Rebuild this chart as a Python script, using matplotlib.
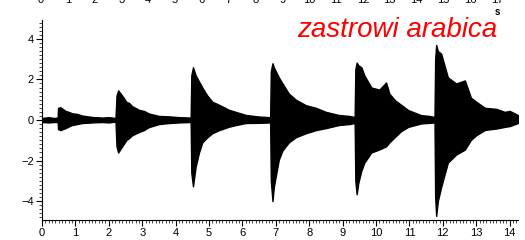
import matplotlib
matplotlib.use("Agg")
import matplotlib.pyplot as plt
from matplotlib.ticker import MultipleLocator

plt.rcParams['font.family'] = ['Liberation Sans', 'DejaVu Sans']

# envelope of the waveform (time in s, upper / lower amplitude)
env_t = [0.0, 0.2, 0.35, 0.47, 0.48, 0.55, 0.7, 0.8, 0.9, 1.05, 1.2, 1.5, 1.8, 2.0, 2.2,
         2.23, 2.28, 2.4, 2.53, 2.6, 2.7, 2.92, 3.05, 3.2, 3.5, 3.8, 4.1, 4.45,
         4.47, 4.52, 4.6, 4.7, 4.8, 4.95, 5.1, 5.3, 5.6, 5.8, 6.1, 6.5, 6.83,
         6.85, 6.9, 6.94, 7.09, 7.2, 7.39, 7.6, 7.9, 8.2, 8.5, 8.88, 9.2, 9.36,
         9.38, 9.42, 9.47, 9.56, 9.65, 9.86, 10.1, 10.3, 10.4, 10.57, 10.75, 10.96, 11.35, 11.6, 11.75,
         11.77, 11.8, 11.85, 11.95, 12.15, 12.4, 12.66, 12.84, 13.0, 13.26, 13.6, 13.85, 14.0, 14.25]
env_hi = [0.1, 0.14, 0.1, 0.12, 0.6, 0.63, 0.45, 0.4, 0.33, 0.3, 0.22, 0.15, 0.12, 0.14, 0.1,
          1.2, 1.46, 1.2, 0.88, 0.85, 0.68, 0.49, 0.45, 0.32, 0.2, 0.18, 0.14, 0.12,
          2.2, 2.6, 2.2, 1.9, 1.6, 1.2, 0.9, 0.75, 0.5, 0.4, 0.25, 0.17, 0.14,
          2.4, 2.8, 2.6, 2.1, 1.8, 1.3, 1.0, 0.73, 0.6, 0.4, 0.25, 0.2, 0.15,
          2.5, 2.83, 2.7, 2.6, 2.2, 1.6, 1.5, 1.85, 1.3, 0.97, 0.75, 0.49, 0.24, 0.2, 0.15,
          3.0, 3.7, 3.4, 3.27, 2.1, 1.8, 1.95, 1.1, 0.9, 0.6, 0.55, 0.4, 0.45, 0.24]
env_lo = [-0.1, -0.12, -0.1, -0.1, -0.45, -0.5, -0.4, -0.32, -0.25, -0.2, -0.15, -0.12, -0.1, -0.12, -0.08,
          -1.3, -1.6, -1.3, -0.98, -0.9, -0.75, -0.58, -0.5, -0.35, -0.2, -0.15, -0.12, -0.1,
          -2.6, -3.27, -2.3, -1.6, -1.1, -0.85, -0.65, -0.5, -0.33, -0.25, -0.15, -0.14, -0.12,
          -3.0, -4.0, -3.3, -1.95, -1.5, -1.1, -0.85, -0.65, -0.5, -0.4, -0.25, -0.2, -0.15,
          -3.0, -3.66, -3.1, -2.5, -2.1, -1.6, -1.45, -1.3, -1.1, -0.83, -0.55, -0.34, -0.17, -0.14, -0.12,
          -3.8, -4.73, -4.0, -3.3, -2.1, -1.7, -1.46, -0.98, -0.75, -0.49, -0.42, -0.34, -0.3, -0.15]

top_ticks = list(range(0, 18))
title = "zastrowi arabica"

fig = plt.figure(figsize=(5.25, 2.4), dpi=100)
ax = fig.add_axes([42 / 525, 20 / 240, 476 / 525, 200 / 240])

ax.fill_between(env_t, env_lo, env_hi, color='black', linewidth=1.0, edgecolor='black')

ax.set_xlim(0, 14.25)
ax.set_ylim(-4.93, 4.93)
ax.spines['top'].set_visible(False)
ax.spines['right'].set_visible(False)
ax.xaxis.set_major_locator(MultipleLocator(1))
ax.xaxis.set_minor_locator(MultipleLocator(0.1))
ax.yaxis.set_major_locator(MultipleLocator(2))
ax.yaxis.set_minor_locator(MultipleLocator(0.2))
ax.tick_params(which='major', length=4, width=0.8, labelsize=8, pad=2)
ax.tick_params(which='minor', length=2, width=0.5)

# cut-off time axis of the chart above
ax_top = fig.add_axes([41 / 525, 1 + 6.5 / 240, 456 / 525, 0.001])
ax_top.set_xlim(0, 17)
ax_top.set_xticks(top_ticks)
ax_top.tick_params(length=0, labelsize=8, pad=1)
ax_top.set_yticks([])
for s in ax_top.spines.values():
    s.set_visible(False)
ax_top.patch.set_visible(False)
fig.text(497 / 525, 1 - 12 / 240, "s", ha='center', va='center', fontsize=7, fontweight='bold')

fig.text(497 / 525, 1 - 37 / 240, title, ha='right', va='baseline',
         fontsize=20, style='italic', color='red')

fig.savefig("out.png", dpi=100)
